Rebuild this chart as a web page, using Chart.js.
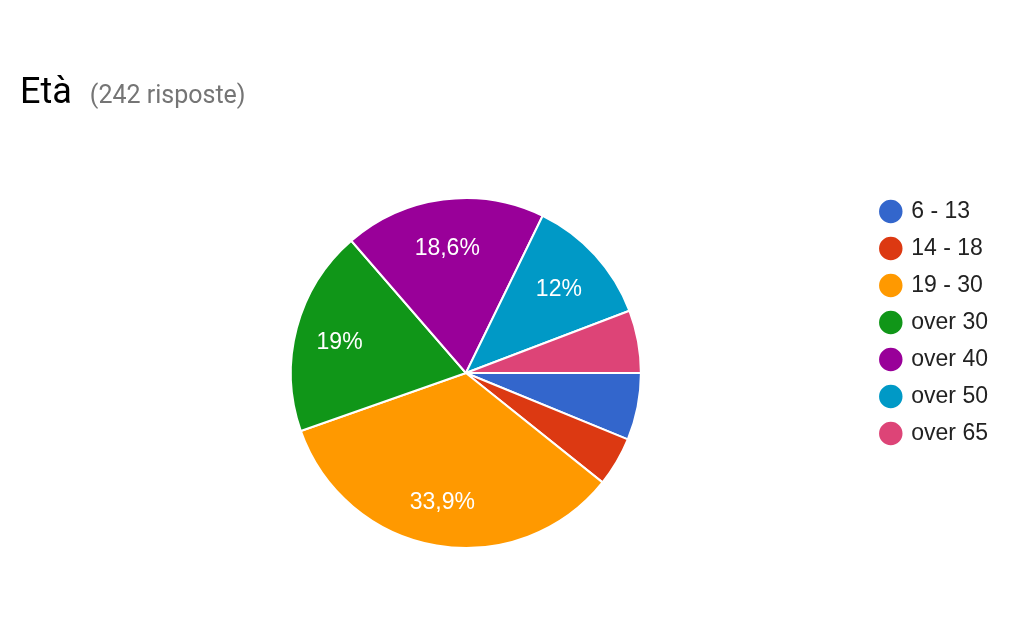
<!DOCTYPE html>
<html>
<head>
<meta charset="utf-8">
<script src="https://cdn.jsdelivr.net/npm/chart.js@4/dist/chart.umd.min.js"></script>
<style>
  html, body { margin: 0; padding: 0; background: #fff; }
  #wrap { position: relative; width: 1023px; height: 637px; }
  #title { position: absolute; left: 20px; top: 70px; font-family: Roboto, sans-serif; white-space: nowrap; }
  #title .main { font-size: 36px; color: #000; }
  #title .sub { font-size: 25px; color: #757575; margin-left: 18px; }
  #chart { position: absolute; left: 0; top: 0; }
</style>
</head>
<body>
<div id="wrap">
  <canvas id="chart" width="1023" height="637"></canvas>
  <div id="title"><span class="main">Età</span><span class="sub">(242 risposte)</span></div>
</div>
<script>
const categories = ['6 - 13', '14 - 18', '19 - 30', 'over 30', 'over 40', 'over 50', 'over 65'];
const counts = [15, 11, 82, 46, 45, 29, 14];
const colors = ['#3366cc', '#dc3912', '#ff9900', '#109618', '#990099', '#0099c6', '#dd4477'];

// percent labels inside the bigger slices
const sliceLabels = {
  id: 'sliceLabels',
  afterDatasetsDraw(chart) {
    const ctx = chart.ctx;
    const meta = chart.getDatasetMeta(0);
    const total = counts.reduce((a, b) => a + b, 0);
    ctx.save();
    ctx.fillStyle = '#fff';
    ctx.font = '23px "Liberation Sans", Arial, sans-serif';
    ctx.textAlign = 'center';
    ctx.textBaseline = 'middle';
    meta.data.forEach((arc, i) => {
      const pct = counts[i] / total * 100;
      if (pct < 10) return;
      const p = arc.getProps(['x', 'y', 'startAngle', 'endAngle', 'outerRadius'], true);
      const mid = (p.startAngle + p.endAngle) / 2;
      const r = p.outerRadius * 0.735;
      const txt = (Math.round(pct * 10) / 10).toString().replace('.', ',') + '%';
      ctx.fillText(txt, p.x + Math.cos(mid) * r - 2, p.y + Math.sin(mid) * r + 3);
    });
    ctx.restore();
  }
};

new Chart(document.getElementById('chart'), {
  type: 'pie',
  data: {
    labels: categories,
    datasets: [{
      data: counts,
      backgroundColor: colors,
      borderColor: '#fff',
      borderWidth: 2,
      radius: 175
    }]
  },
  options: {
    responsive: false,
    animation: false,
    rotation: 90,
    layout: { padding: { top: 186, bottom: 77, left: 64, right: 25 } },
    plugins: {
      tooltip: { enabled: false },
      legend: {
        position: 'right',
        align: 'start',
        labels: {
          usePointStyle: true,
          pointStyle: 'circle',
          boxWidth: 18,
          boxHeight: 18,
          padding: 14,
          color: '#222',
          font: { family: '"Liberation Sans", Arial, sans-serif', size: 23 }
        }
      }
    }
  },
  plugins: [sliceLabels]
});
</script>
</body>
</html>
